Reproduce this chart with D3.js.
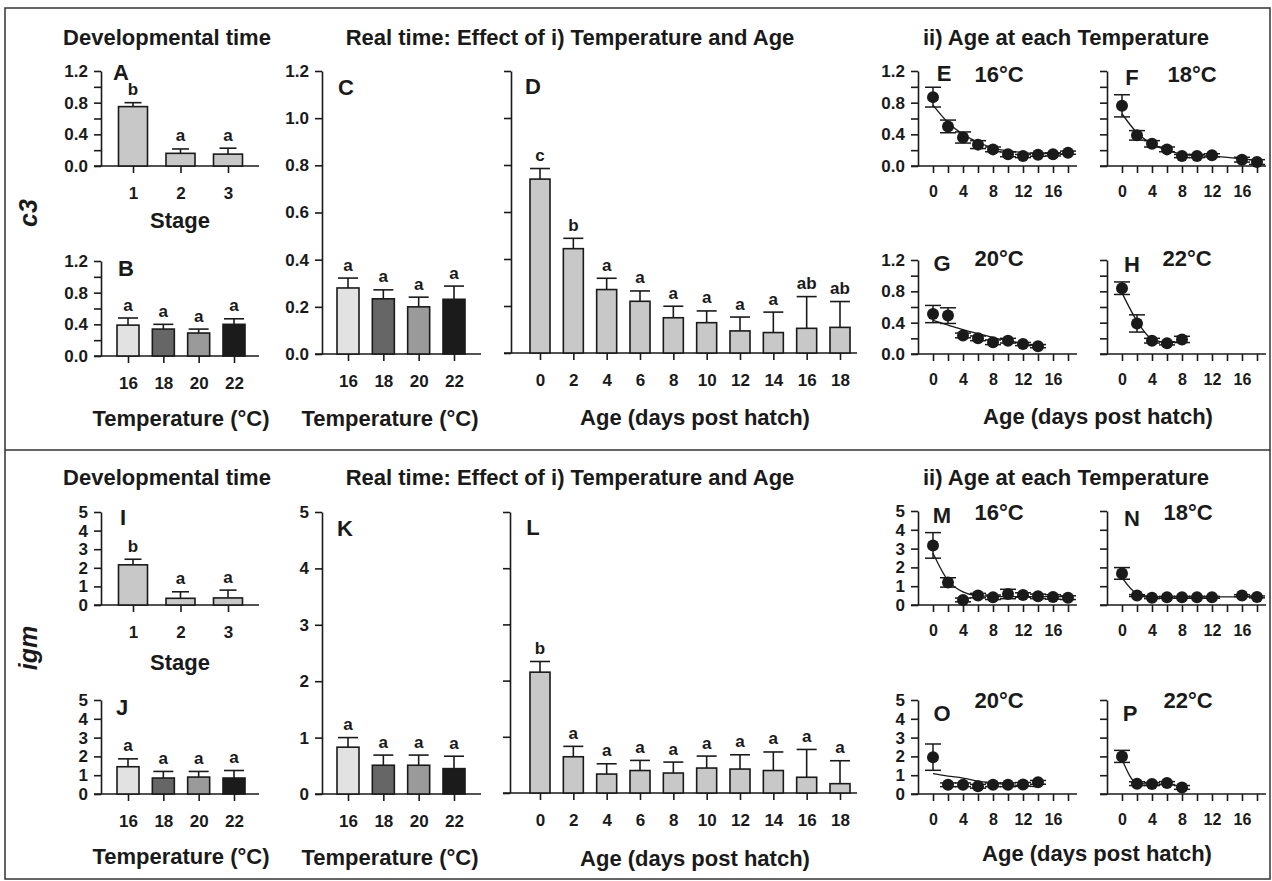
<!DOCTYPE html>
<html>
<head>
<meta charset="utf-8">
<script src="https://cdn.jsdelivr.net/npm/d3@7"></script>
<style>
  body { margin: 0; background: #fff; }
  svg text { font-family: "Liberation Sans", Arial, sans-serif; font-weight: bold; fill: #1a1a1a; }
</style>
</head>
<body>
<svg id="fig" width="1272" height="881"></svg>
<script>
// # Categories and ticks
const stageCats = ["1", "2", "3"];
const tempCats = ["16", "18", "20", "22"];
const ageCats = ["0", "2", "4", "6", "8", "10", "12", "14", "16", "18"];
const c3Ticks = [0, 0.2, 0.4, 0.6, 0.8, 1.0, 1.2];
const igmTicks = [0, 1, 2, 3, 4, 5];
const ageTicks = [0, 2, 4, 6, 8, 10, 12, 14, 16, 18];

// # c3 bar data (mean, upper SE, letters)
const c3StageMean = [0.75, 0.16, 0.15];
const c3StageSE = [0.05, 0.055, 0.075];
const c3StageLetters = ["b", "a", "a"];
const c3DevTempMean = [0.39, 0.34, 0.29, 0.40];
const c3DevTempSE = [0.09, 0.06, 0.05, 0.07];
const c3RealTempMean = [0.28, 0.234, 0.20, 0.232];
const c3RealTempSE = [0.042, 0.038, 0.041, 0.056];
const c3AgeMean = [0.74, 0.444, 0.27, 0.22, 0.15, 0.129, 0.094, 0.087, 0.105, 0.109];
const c3AgeSE = [0.045, 0.044, 0.048, 0.044, 0.049, 0.05, 0.059, 0.087, 0.135, 0.11];
const c3AgeLetters = ["c", "b", "a", "a", "a", "a", "a", "a", "ab", "ab"];

// # igm bar data
const igmStageMean = [2.16, 0.36, 0.38];
const igmStageSE = [0.3, 0.35, 0.42];
const igmStageLetters = ["b", "a", "a"];
const igmDevTempMean = [1.45, 0.85, 0.9, 0.85];
const igmDevTempSE = [0.42, 0.35, 0.3, 0.4];
const igmRealTempMean = [0.83, 0.51, 0.51, 0.45];
const igmRealTempSE = [0.17, 0.18, 0.18, 0.22];
const igmAgeMean = [2.15, 0.645, 0.337, 0.40, 0.355, 0.444, 0.426, 0.40, 0.28, 0.166];
const igmAgeSE = [0.19, 0.185, 0.183, 0.18, 0.195, 0.213, 0.254, 0.33, 0.495, 0.408];
const igmAgeLetters = ["b", "a", "a", "a", "a", "a", "a", "a", "a", "a"];

const tempLetters = ["a", "a", "a", "a"];

// # Age series at each temperature (mean, SE, fitted curve)
const c3Age16 = [0, 2, 4, 6, 8, 10, 12, 14, 16, 18];
const c3Mean16 = [0.87, 0.50, 0.36, 0.27, 0.21, 0.147, 0.126, 0.143, 0.147, 0.168];
const c3SE16 = [0.125, 0.08, 0.07, 0.05, 0.03, 0.03, 0.02, 0.02, 0.02, 0.02];
const c3Fit16 = [0.77, 0.55, 0.40, 0.30, 0.23, 0.19, 0.17, 0.16, 0.155, 0.15];

const c3Age18 = [0, 2, 4, 6, 8, 10, 12, 16, 18];
const c3Mean18 = [0.76, 0.387, 0.28, 0.21, 0.126, 0.126, 0.135, 0.08, 0.05];
const c3SE18 = [0.14, 0.06, 0.04, 0.03, 0.02, 0.02, 0.02, 0.03, 0.03];
const c3Fit18 = [0.66, 0.42, 0.28, 0.20, 0.15, 0.13, 0.125, 0.09, 0.07];

const c3Age20 = [0, 2, 4, 6, 8, 10, 12, 14];
const c3Mean20 = [0.51, 0.49, 0.237, 0.20, 0.15, 0.17, 0.127, 0.10];
const c3SE20 = [0.11, 0.1, 0.03, 0.03, 0.03, 0.03, 0.02, 0.02];
const c3Fit20 = [0.43, 0.37, 0.31, 0.26, 0.21, 0.17, 0.13, 0.10];

const c3Age22 = [0, 2, 4, 6, 8];
const c3Mean22 = [0.84, 0.39, 0.17, 0.136, 0.186];
const c3SE22 = [0.08, 0.11, 0.03, 0.02, 0.04];
const c3Fit22 = [0.78, 0.42, 0.19, 0.15, 0.15];

const igmAge16 = [0, 2, 4, 6, 8, 10, 12, 14, 16, 18];
const igmMean16 = [3.17, 1.2, 0.27, 0.5, 0.41, 0.585, 0.53, 0.46, 0.43, 0.39];
const igmSE16 = [0.68, 0.25, 0.1, 0.12, 0.12, 0.25, 0.12, 0.12, 0.12, 0.1];
const igmFit16 = [2.75, 1.3, 0.7, 0.5, 0.46, 0.45, 0.45, 0.45, 0.45, 0.45];

const igmAge18 = [0, 2, 4, 6, 8, 10, 12, 16, 18];
const igmMean18 = [1.68, 0.5, 0.39, 0.41, 0.41, 0.41, 0.41, 0.5, 0.43];
const igmSE18 = [0.31, 0.05, 0.05, 0.05, 0.05, 0.05, 0.05, 0.05, 0.05];
const igmFit18 = [1.45, 0.6, 0.44, 0.43, 0.43, 0.43, 0.43, 0.43, 0.43];

const igmAge20 = [0, 2, 4, 6, 8, 10, 12, 14];
const igmMean20 = [1.96, 0.49, 0.49, 0.41, 0.49, 0.49, 0.51, 0.62];
const igmSE20 = [0.7, 0.1, 0.1, 0.1, 0.1, 0.1, 0.1, 0.1];
const igmFit20 = [1.08, 0.95, 0.85, 0.68, 0.58, 0.5, 0.44, 0.38];

const igmAge22 = [0, 2, 4, 6, 8];
const igmMean22 = [2.0, 0.55, 0.53, 0.58, 0.35];
const igmSE22 = [0.32, 0.1, 0.08, 0.08, 0.1];
const igmFit22 = [1.84, 0.58, 0.53, 0.53, 0.37];

// # Colours
const stageFill = "#c8c8c8";
const tempFills = ["#e2e2e2", "#666666", "#9a9a9a", "#1b1b1b"];
const ink = "#1a1a1a";

const svg = d3.select("#fig");

// # Frame
svg.append("rect")
  .attr("x", 5).attr("y", 8).attr("width", 1265).attr("height", 871)
  .attr("fill", "none").attr("stroke", "#333").attr("stroke-width", 1.5);
svg.append("line")
  .attr("x1", 5).attr("x2", 1270).attr("y1", 450).attr("y2", 450)
  .attr("stroke", "#333").attr("stroke-width", 1.5);

function styleAxis(sel, size) {
  sel.attr("font-size", size).attr("color", ink);
  sel.selectAll("line, path").attr("stroke-width", 1.6);
}

function addText(txt, x, y, size, extra) {
  const t = svg.append("text")
    .attr("x", x).attr("y", y)
    .attr("text-anchor", "middle")
    .attr("dominant-baseline", "central")
    .style("font-size", size + "px")
    .text(txt);
  if (extra) extra(t);
  return t;
}

function drawYAxis(y, p) {
  const fmt = d3.format(p.fmt);
  const ax = svg.append("g")
    .attr("transform", `translate(${p.ax},0)`)
    .call(d3.axisLeft(y)
      .tickValues(p.yTicks)
      .tickFormat((d, i) => p.labelEvery && i % p.labelEvery === 0 ? fmt(d) : "")
      .tickSize(7).tickSizeOuter(0).tickPadding(6));
  styleAxis(ax, 17);
}

// # Bar panels
function barPanel(p) {
  const y = d3.scaleLinear().domain([0, p.yMax]).range([p.y0, p.y1]);
  const x = d3.scalePoint().domain(p.cats).range([p.c0, p.c1]);

  drawYAxis(y, p);

  const xa = svg.append("g")
    .attr("transform", `translate(0,${p.y0})`)
    .call(d3.axisBottom(x).tickSize(7).tickSizeOuter(0).tickPadding(14));
  xa.select(".domain").remove();
  styleAxis(xa, 17);
  svg.append("line")
    .attr("x1", p.ax - 7).attr("x2", p.xEnd)
    .attr("y1", p.y0).attr("y2", p.y0)
    .attr("stroke", ink).attr("stroke-width", 1.6);

  const rows = p.cats.map((c, i) => ({ c, m: p.mean[i], se: p.se[i], lab: p.letters ? p.letters[i] : null, i }));
  const g = svg.append("g");

  // error bars (upper only)
  g.selectAll(".err").data(rows).join("line")
    .attr("x1", d => x(d.c)).attr("x2", d => x(d.c))
    .attr("y1", d => y(d.m)).attr("y2", d => y(d.m + d.se))
    .attr("stroke", ink).attr("stroke-width", 1.6);
  g.selectAll(".cap").data(rows).join("line")
    .attr("x1", d => x(d.c) - p.capW / 2).attr("x2", d => x(d.c) + p.capW / 2)
    .attr("y1", d => y(d.m + d.se)).attr("y2", d => y(d.m + d.se))
    .attr("stroke", ink).attr("stroke-width", 1.6);

  g.selectAll("rect").data(rows).join("rect")
    .attr("x", d => x(d.c) - p.barW / 2)
    .attr("y", d => y(d.m))
    .attr("width", p.barW)
    .attr("height", d => p.y0 - y(d.m))
    .attr("fill", d => Array.isArray(p.fill) ? p.fill[d.i] : p.fill)
    .attr("stroke", ink).attr("stroke-width", 1.6);

  if (p.letters) {
    rows.forEach(d => addText(d.lab, x(d.c), y(d.m + d.se) - 13, 17));
  }
  addText(p.tag, p.tagX, p.tagY, 22);
}

// # Age-series panels
function agePanel(p) {
  const x = d3.scaleLinear().domain([-2, 19.2]).range([p.ax, p.ax + 159]);
  const y = d3.scaleLinear().domain([0, p.yMax]).range([p.y0, p.y1]);

  drawYAxis(y, p);

  const xa = svg.append("g")
    .attr("transform", `translate(0,${p.y0})`)
    .call(d3.axisBottom(x).tickValues(ageTicks)
      .tickFormat(d => d % 4 === 0 ? d : "")
      .tickSize(7).tickSizeOuter(0).tickPadding(13));
  xa.select(".domain").remove();
  styleAxis(xa, 16);
  svg.append("line")
    .attr("x1", p.ax - 7).attr("x2", p.ax + 159)
    .attr("y1", p.y0).attr("y2", p.y0)
    .attr("stroke", ink).attr("stroke-width", 1.6);

  const rows = p.ages.map((a, i) => ({ a, m: p.mean[i], se: p.se[i], f: p.fit[i] }));
  const g = svg.append("g");

  g.append("path").datum(rows)
    .attr("d", d3.line().x(d => x(d.a)).y(d => y(d.f)).curve(d3.curveMonotoneX))
    .attr("fill", "none").attr("stroke", ink).attr("stroke-width", 1.3);

  g.selectAll(".v").data(rows).join("line")
    .attr("x1", d => x(d.a)).attr("x2", d => x(d.a))
    .attr("y1", d => y(d.m - d.se)).attr("y2", d => y(d.m + d.se))
    .attr("stroke", ink).attr("stroke-width", 1.5);
  [1, -1].forEach(s => {
    g.selectAll(null).data(rows).join("line")
      .attr("x1", d => x(d.a) - 8).attr("x2", d => x(d.a) + 8)
      .attr("y1", d => y(d.m + s * d.se)).attr("y2", d => y(d.m + s * d.se))
      .attr("stroke", ink).attr("stroke-width", 1.5);
  });
  g.selectAll("circle").data(rows).join("circle")
    .attr("cx", d => x(d.a)).attr("cy", d => y(d.m))
    .attr("r", 6).attr("fill", ink);

  addText(p.tag, p.tagX, p.tagY, 22);
  addText(p.temp, p.tempX, p.tempY, 22);
}

// # c3 half
barPanel({ cats: stageCats, mean: c3StageMean, se: c3StageSE, letters: c3StageLetters, fill: stageFill,
  ax: 101, xEnd: 259, c0: 133, c1: 228, barW: 29, capW: 17, y0: 166, y1: 71, yMax: 1.2,
  yTicks: c3Ticks, labelEvery: 2, fmt: ".1f", tag: "A", tagX: 121, tagY: 72 });
barPanel({ cats: tempCats, mean: c3DevTempMean, se: c3DevTempSE, letters: tempLetters, fill: tempFills,
  ax: 101, xEnd: 259, c0: 128, c1: 234, barW: 22, capW: 20, y0: 356, y1: 261, yMax: 1.2,
  yTicks: c3Ticks, labelEvery: 2, fmt: ".1f", tag: "B", tagX: 126, tagY: 268 });
barPanel({ cats: tempCats, mean: c3RealTempMean, se: c3RealTempSE, letters: tempLetters, fill: tempFills,
  ax: 322, xEnd: 481, c0: 348, c1: 454, barW: 22, capW: 20, y0: 354, y1: 71, yMax: 1.2,
  yTicks: c3Ticks, labelEvery: 1, fmt: ".1f", tag: "C", tagX: 346, tagY: 87 });
barPanel({ cats: ageCats, mean: c3AgeMean, se: c3AgeSE, letters: c3AgeLetters, fill: stageFill,
  ax: 511, xEnd: 857, c0: 540, c1: 840, barW: 20, capW: 20, y0: 353, y1: 71, yMax: 1.2,
  yTicks: c3Ticks, labelEvery: 0, fmt: ".1f", tag: "D", tagX: 533, tagY: 86 });

agePanel({ ages: c3Age16, mean: c3Mean16, se: c3SE16, fit: c3Fit16, ax: 918, y0: 166, y1: 71, yMax: 1.2,
  yTicks: c3Ticks, labelEvery: 2, fmt: ".1f", tag: "E", tagX: 944, tagY: 73, temp: "16°C", tempX: 999, tempY: 74 });
agePanel({ ages: c3Age18, mean: c3Mean18, se: c3SE18, fit: c3Fit18, ax: 1107, y0: 166, y1: 71, yMax: 1.2,
  yTicks: c3Ticks, labelEvery: 0, fmt: ".1f", tag: "F", tagX: 1132, tagY: 77, temp: "18°C", tempX: 1192, tempY: 74 });
agePanel({ ages: c3Age20, mean: c3Mean20, se: c3SE20, fit: c3Fit20, ax: 918, y0: 354, y1: 260, yMax: 1.2,
  yTicks: c3Ticks, labelEvery: 2, fmt: ".1f", tag: "G", tagX: 942, tagY: 263, temp: "20°C", tempX: 999, tempY: 258 });
agePanel({ ages: c3Age22, mean: c3Mean22, se: c3SE22, fit: c3Fit22, ax: 1107, y0: 354, y1: 260, yMax: 1.2,
  yTicks: c3Ticks, labelEvery: 0, fmt: ".1f", tag: "H", tagX: 1132, tagY: 264, temp: "22°C", tempX: 1187, tempY: 258 });

// # igm half
barPanel({ cats: stageCats, mean: igmStageMean, se: igmStageSE, letters: igmStageLetters, fill: stageFill,
  ax: 101, xEnd: 259, c0: 133, c1: 228, barW: 29, capW: 17, y0: 605, y1: 512, yMax: 5,
  yTicks: igmTicks, labelEvery: 1, fmt: "d", tag: "I", tagX: 123, tagY: 517 });
barPanel({ cats: tempCats, mean: igmDevTempMean, se: igmDevTempSE, letters: tempLetters, fill: tempFills,
  ax: 101, xEnd: 259, c0: 128, c1: 234, barW: 22, capW: 20, y0: 794, y1: 700, yMax: 5,
  yTicks: igmTicks, labelEvery: 1, fmt: "d", tag: "J", tagX: 122, tagY: 707 });
barPanel({ cats: tempCats, mean: igmRealTempMean, se: igmRealTempSE, letters: tempLetters, fill: tempFills,
  ax: 322, xEnd: 481, c0: 348, c1: 454, barW: 22, capW: 20, y0: 794, y1: 512, yMax: 5,
  yTicks: igmTicks, labelEvery: 1, fmt: "d", tag: "K", tagX: 345, tagY: 528 });
barPanel({ cats: ageCats, mean: igmAgeMean, se: igmAgeSE, letters: igmAgeLetters, fill: stageFill,
  ax: 510, xEnd: 857, c0: 540, c1: 840, barW: 20, capW: 20, y0: 793, y1: 512, yMax: 5,
  yTicks: igmTicks, labelEvery: 0, fmt: "d", tag: "L", tagX: 533, tagY: 527 });

agePanel({ ages: igmAge16, mean: igmMean16, se: igmSE16, fit: igmFit16, ax: 918, y0: 605, y1: 511, yMax: 5,
  yTicks: igmTicks, labelEvery: 1, fmt: "d", tag: "M", tagX: 942, tagY: 515, temp: "16°C", tempX: 999, tempY: 512 });
agePanel({ ages: igmAge18, mean: igmMean18, se: igmSE18, fit: igmFit18, ax: 1107, y0: 605, y1: 511, yMax: 5,
  yTicks: igmTicks, labelEvery: 0, fmt: "d", tag: "N", tagX: 1132, tagY: 518, temp: "18°C", tempX: 1188, tempY: 512 });
agePanel({ ages: igmAge20, mean: igmMean20, se: igmSE20, fit: igmFit20, ax: 918, y0: 794, y1: 700, yMax: 5,
  yTicks: igmTicks, labelEvery: 1, fmt: "d", tag: "O", tagX: 942, tagY: 713, temp: "20°C", tempX: 999, tempY: 700 });
agePanel({ ages: igmAge22, mean: igmMean22, se: igmSE22, fit: igmFit22, ax: 1107, y0: 794, y1: 700, yMax: 5,
  yTicks: igmTicks, labelEvery: 0, fmt: "d", tag: "P", tagX: 1130, tagY: 713, temp: "22°C", tempX: 1188, tempY: 700 });

// # Titles and axis labels
[37, 477].forEach(ty => {
  addText("Developmental time", 167, ty, 22);
  addText("Real time: Effect of i) Temperature and Age", 570, ty, 22);
  addText("ii) Age at each Temperature", 1066, ty, 22);
});
addText("Stage", 180, 220, 22);
addText("Temperature (°C)", 181, 418, 22);
addText("Temperature (°C)", 390, 418, 22);
addText("Age (days post hatch)", 695, 417, 22);
addText("Age (days post hatch)", 1098, 416, 22);
addText("Stage", 180, 662, 22);
addText("Temperature (°C)", 181, 856, 22);
addText("Temperature (°C)", 390, 857, 22);
addText("Age (days post hatch)", 695, 858, 22);
addText("Age (days post hatch)", 1097, 853, 22);

const italic = t => t.style("font-style", "italic");
addText("c3", 28, 213, 25, t => { italic(t); t.attr("transform", "rotate(-90,28,213)"); });
addText("igm", 28, 648, 25, t => { italic(t); t.attr("transform", "rotate(-90,28,648)"); });
</script>
</body>
</html>
